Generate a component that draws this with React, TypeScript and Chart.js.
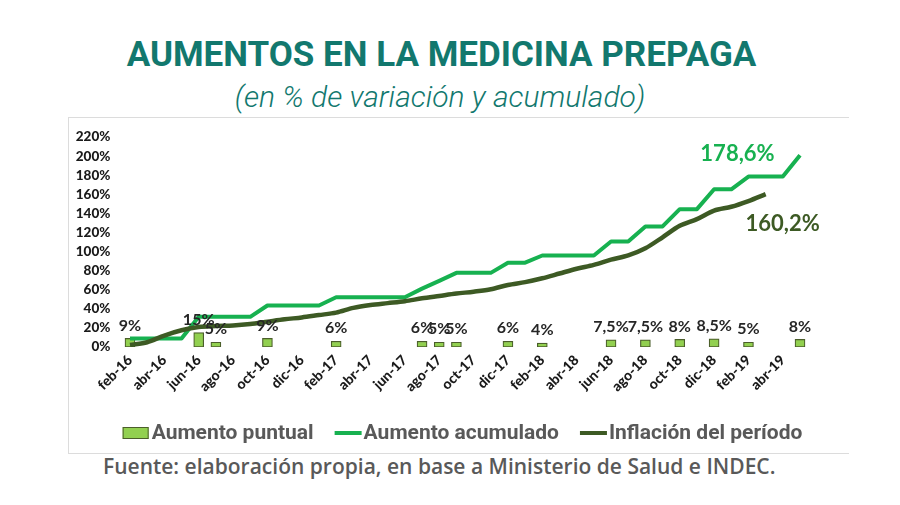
import React, { useEffect, useRef } from "react";
import { Chart, registerables } from "chart.js";

Chart.register(...registerables);

const months = [
  "feb-16", "mar-16", "abr-16", "may-16", "jun-16", "jul-16", "ago-16", "sep-16", "oct-16", "nov-16", "dic-16",
  "ene-17", "feb-17", "mar-17", "abr-17", "may-17", "jun-17", "jul-17", "ago-17", "sep-17", "oct-17", "nov-17", "dic-17",
  "ene-18", "feb-18", "mar-18", "abr-18", "may-18", "jun-18", "jul-18", "ago-18", "sep-18", "oct-18", "nov-18", "dic-18",
  "ene-19", "feb-19", "mar-19", "abr-19", "may-19",
];

const aumentoPuntual: (number | null)[] = [
  9, null, null, null, 15, 5, null, null, 9, null, null,
  null, 6, null, null, null, null, 6, 5, 5, null, null, 6,
  null, 4, null, null, null, 7.5, null, 7.5, null, 8, null, 8.5,
  null, 5, null, null, 8,
];

const aumentoAcumulado: number[] = [
  9, 9, 9, 9, 31.6, 31.6, 31.6, 31.6, 43.5, 43.5, 43.5,
  43.5, 52.1, 52.1, 52.1, 52.1, 52.1, 61.2, 69.3, 77.7, 77.7, 77.7, 88.4,
  88.4, 95.9, 95.9, 95.9, 95.9, 110.6, 110.6, 126.4, 126.4, 144.5, 144.5, 165.3,
  165.3, 178.6, 178.6, 178.6, 200.9,
];

const inflacion: (number | null)[] = [
  2, 5, 12, 17.5, 21, 22, 22.5, 24, 26.5, 29, 31,
  33.5, 36, 41, 44, 46, 48, 51, 53.5, 56, 58, 60.5, 65,
  68, 72, 77, 82, 86, 91.5, 96, 103.5, 115, 127, 134, 143,
  147, 153, 160.2, null, null,
];

const seriesNames = ["Aumento puntual", "Aumento acumulado", "Inflación del período"];
const endLabels = ["178,6%", "160,2%"];
const yMin = 0;
const yMax = 220;
const yStep = 20;

const COL_BAR = "#92d050";
const COL_BAR_BORDER = "#4b5e2b";
const COL_ACUM = "#17b150";
const COL_INF = "#3d5a24";
const COL_TEAL = "#12786e";

const fmt = (v: number) => String(v).replace(".", ",");

const overlayPlugin = {
  id: "overlay",
  afterDatasetsDraw(chart: any) {
    const ctx = chart.ctx as CanvasRenderingContext2D;
    const xs = chart.scales.x;
    const ys = chart.scales.y;
    ctx.save();
    // bar value labels
    ctx.font = "700 16px Lato";
    ctx.fillStyle = "#262626";
    ctx.textAlign = "center";
    ctx.textBaseline = "middle";
    aumentoPuntual.forEach((v, i) => {
      if (v == null) return;
      ctx.fillText(fmt(v) + "%", xs.getPixelForValue(i), ys.getPixelForValue(v) - 13);
    });
    // end labels
    ctx.font = "700 22px Lato";
    ctx.fillStyle = COL_ACUM;
    const ia = 36;
    ctx.fillText(endLabels[0], xs.getPixelForValue(ia) - 11, ys.getPixelForValue(aumentoAcumulado[ia]) - 23);
    ctx.fillStyle = COL_INF;
    const ii = 37;
    ctx.fillText(endLabels[1], xs.getPixelForValue(ii) + 17, ys.getPixelForValue(inflacion[ii] as number) + 30);

    // legend
    ctx.font = "700 21px Roboto";
    const items = [
      { type: "box", color: COL_BAR, label: seriesNames[0] },
      { type: "line", color: COL_ACUM, label: seriesNames[1] },
      { type: "line", color: COL_INF, label: seriesNames[2] },
    ];
    const swW = 27;
    const swGap = 2;
    const itemGap = 21;
    const widths = items.map((it) => ctx.measureText(it.label).width);
    const total = widths.reduce((a, b) => a + b, 0) + items.length * (swW + swGap) + (items.length - 1) * itemGap;
    let lx = 393.5 - total / 2;
    const ly = 315;
    ctx.textAlign = "left";
    items.forEach((it, k) => {
      if (it.type === "box") {
        ctx.fillStyle = it.color;
        ctx.fillRect(lx, ly - 6, swW - 1, 12);
        ctx.strokeStyle = COL_BAR_BORDER;
        ctx.lineWidth = 1;
        ctx.strokeRect(lx + 0.5, ly - 5.5, swW - 2, 11);
      } else {
        ctx.strokeStyle = it.color;
        ctx.lineWidth = 4;
        ctx.beginPath();
        ctx.moveTo(lx, ly);
        ctx.lineTo(lx + swW, ly);
        ctx.stroke();
      }
      ctx.fillStyle = "#595959";
      ctx.fillText(it.label, lx + swW + swGap, ly + 1);
      lx += swW + swGap + widths[k] + itemGap;
    });
    ctx.restore();
  },
};

function ChartCanvas() {
  const ref = useRef<HTMLCanvasElement | null>(null);
  useEffect(() => {
    if (!ref.current) return;
    const chart = new Chart(ref.current, {
      type: "bar",
      data: {
        labels: months,
        datasets: [
          {
            type: "line",
            label: seriesNames[2],
            data: inflacion,
            borderColor: COL_INF,
            backgroundColor: COL_INF,
            borderWidth: 4.5,
            pointRadius: 0,
            tension: 0.3,
            order: 0,
          } as any,
          {
            type: "line",
            label: seriesNames[1],
            data: aumentoAcumulado,
            borderColor: COL_ACUM,
            backgroundColor: COL_ACUM,
            borderWidth: 4,
            pointRadius: 0,
            tension: 0,
            borderJoinStyle: "round",
            order: 1,
          } as any,
          {
            type: "bar",
            label: seriesNames[0],
            data: aumentoPuntual,
            backgroundColor: COL_BAR,
            borderColor: COL_BAR_BORDER,
            borderWidth: 1.2,
            borderSkipped: false,
            barThickness: 10,
            order: 2,
          } as any,
        ],
      },
      options: {
        responsive: false,
        animation: false,
        layout: { padding: { top: 17, right: 39.4, left: 0, bottom: 0 } },
        plugins: {
          legend: { display: false },
          tooltip: { enabled: false },
          title: { display: false },
        },
        scales: {
          x: {
            offset: true,
            grid: { display: false, drawTicks: false },
            border: { display: false },
            ticks: {
              autoSkip: false,
              minRotation: 45,
              maxRotation: 45,
              padding: 5,
              color: "#1a1a1a",
              font: { family: "Lato", weight: "900", size: 14 },
              callback: function (_v: any, idx: number) {
                return idx % 2 === 0 ? months[idx] : "";
              },
            },
            afterFit: (s: any) => {
              s.height = 105;
            },
          },
          y: {
            min: yMin,
            max: yMax,
            grid: { display: false, drawTicks: false },
            border: { display: false },
            ticks: {
              stepSize: yStep,
              autoSkip: false,
              padding: 11,
              color: "#1a1a1a",
              font: { family: "Lato", weight: "900", size: 13.5 },
              callback: (v: any) => v + "%",
            },
            afterFit: (s: any) => {
              s.width = 52.4;
            },
          },
        },
      } as any,
      plugins: [overlayPlugin],
    });
    return () => chart.destroy();
  }, []);
  return <canvas ref={ref} width={779} height={334} style={{ display: "block", width: 779, height: 334 }} />;
}

export default function App() {
  return (
    <div
      style={{
        position: "absolute",
        left: 0,
        top: 0,
        width: 900,
        height: 505,
        background: "#fff",
        overflow: "hidden",
      }}
    >
      <div
        style={{
          position: "absolute",
          left: 0,
          top: 37,
          width: 883,
          textAlign: "center",
          fontFamily: "Roboto",
          fontWeight: 700,
          fontSize: 35,
          lineHeight: "36px",
          color: COL_TEAL,
          whiteSpace: "nowrap",
        }}
      >
        AUMENTOS EN LA MEDICINA PREPAGA
      </div>
      <div
        style={{
          position: "absolute",
          left: 0,
          top: 81,
          width: 880,
          textAlign: "center",
          fontFamily: "Roboto",
          fontWeight: 300,
          fontStyle: "italic",
          fontSize: 30,
          lineHeight: "31px",
          color: COL_TEAL,
          whiteSpace: "nowrap",
        }}
      >
        (en % de variación y acumulado)
      </div>
      <div
        style={{
          position: "absolute",
          left: 68,
          top: 117,
          width: 780,
          height: 335,
          borderLeft: "1px solid #dcdcdc",
          borderTop: "1px solid #dcdcdc",
          borderBottom: "1px solid #dcdcdc",
        }}
      >
        <ChartCanvas />
      </div>
      <div
        style={{
          position: "absolute",
          left: 103,
          top: 455,
          fontFamily: "'Open Sans'",
          fontWeight: 600,
          fontSize: 21,
          lineHeight: "22px",
          color: "#595959",
          whiteSpace: "nowrap",
        }}
      >
        Fuente: elaboración propia, en base a Ministerio de Salud e INDEC.
      </div>
    </div>
  );
}
